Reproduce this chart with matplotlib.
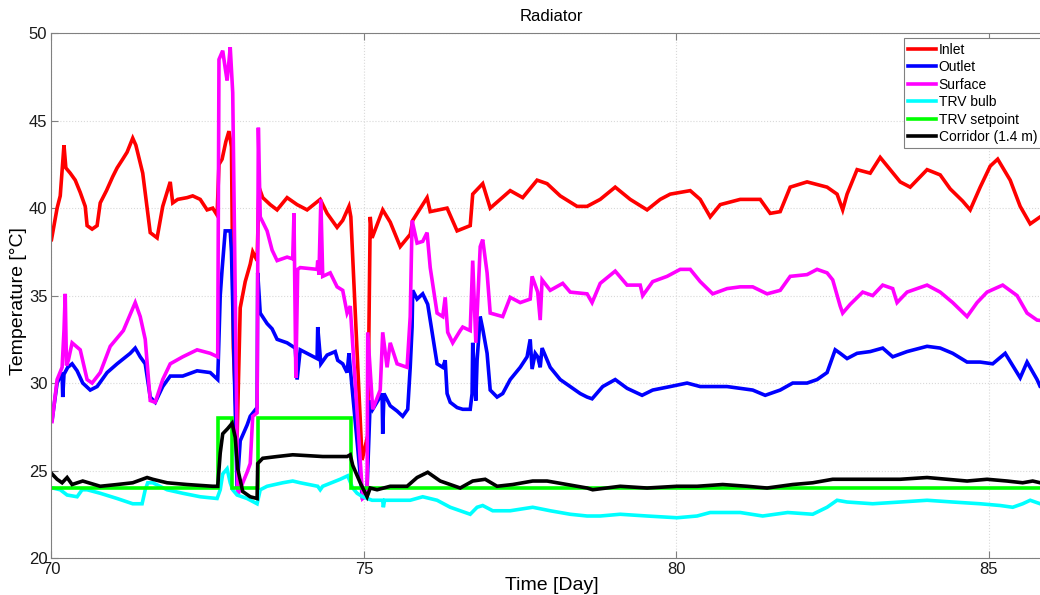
import numpy as np
import matplotlib
matplotlib.use('Agg')
import matplotlib.pyplot as plt

plt.rcParams['font.family'] = ['Liberation Sans', 'DejaVu Sans']

# Inlet temperature
inlet_t = [70.0, 70.09, 70.14, 70.2, 70.23, 70.30, 70.38, 70.46, 70.54, 70.57, 70.65, 70.73,
           70.78, 70.88, 70.98, 71.05, 71.14, 71.21, 71.30, 71.35, 71.46, 71.58, 71.69, 71.78,
           71.90, 71.94, 72.02, 72.17, 72.26, 72.38, 72.49, 72.58, 72.65, 72.68, 72.73, 72.79,
           72.84, 72.88, 72.91, 72.97, 73.02, 73.10, 73.18, 73.22, 73.29, 73.32, 73.38, 73.50,
           73.61, 73.77, 73.93, 74.09, 74.30, 74.41, 74.57, 74.66, 74.76, 74.79, 74.97, 75.06,
           75.10, 75.13, 75.30, 75.42, 75.58, 75.74, 75.78, 76.01, 76.06, 76.33, 76.49, 76.70,
           76.74, 76.90, 77.02, 77.34, 77.54, 77.77, 77.93, 78.14, 78.41, 78.57, 78.78, 79.02,
           79.26, 79.53, 79.74, 79.90, 80.22, 80.38, 80.54, 80.70, 81.02, 81.34, 81.50, 81.66,
           81.82, 82.09, 82.41, 82.57, 82.66, 82.73, 82.89, 83.10, 83.26, 83.42, 83.58, 83.74,
           84.01, 84.22, 84.38, 84.58, 84.70, 84.86, 85.02, 85.14, 85.34, 85.50, 85.66, 85.82, 86.0]
inlet = [38.2, 40.0, 40.7, 43.6, 42.3, 42.0, 41.6, 40.9, 40.1, 39.0, 38.8, 39.0,
         40.3, 41.0, 41.8, 42.3, 42.8, 43.2, 44.0, 43.6, 42.0, 38.6, 38.3, 40.1,
         41.5, 40.3, 40.5, 40.6, 40.7, 40.5, 39.9, 40.0, 39.6, 42.5, 42.8, 43.8,
         44.4, 43.5, 32.0, 26.9, 34.3, 35.8, 36.8, 37.5, 37.0, 41.2, 40.6, 40.2,
         39.9, 40.6, 40.2, 39.9, 40.5, 39.7, 38.9, 39.3, 40.1, 39.5, 25.6, 27.0,
         39.5, 38.3, 39.9, 39.2, 37.8, 38.5, 39.3, 40.6, 39.8, 40.0, 38.7, 39.0,
         40.8, 41.4, 40.0, 41.0, 40.6, 41.6, 41.4, 40.7, 40.1, 40.1, 40.5, 41.2,
         40.5, 39.9, 40.5, 40.8, 41.0, 40.5, 39.5, 40.2, 40.5, 40.5, 39.7, 39.8,
         41.2, 41.5, 41.2, 40.8, 39.9, 40.8, 42.2, 42.0, 42.9, 42.2, 41.5, 41.2,
         42.2, 41.9, 41.1, 40.4, 39.9, 41.2, 42.4, 42.8, 41.6, 40.1, 39.1, 39.5, 39.6]

# Outlet temperature
outlet_t = [70.01, 70.09, 70.17, 70.18, 70.20, 70.26, 70.33, 70.41, 70.50, 70.62, 70.73, 70.89,
            71.05, 71.26, 71.34, 71.42, 71.50, 71.58, 71.66, 71.78, 71.90, 72.10, 72.33, 72.54,
            72.66, 72.70, 72.73, 72.78, 72.86, 72.88, 72.97, 73.02, 73.13, 73.18, 73.29, 73.30,
            73.34, 73.45, 73.53, 73.61, 73.77, 73.90, 73.93, 73.98, 74.14, 74.25, 74.26, 74.31,
            74.41, 74.54, 74.58, 74.66, 74.73, 74.76, 74.79, 74.97, 75.05, 75.10, 75.14, 75.29,
            75.30, 75.32, 75.42, 75.53, 75.62, 75.70, 75.74, 75.77, 75.78, 75.85, 75.94, 76.02,
            76.09, 76.17, 76.26, 76.30, 76.33, 76.38, 76.49, 76.58, 76.70, 76.73, 76.74, 76.79,
            76.81, 76.86, 76.90, 76.97, 77.02, 77.13, 77.22, 77.34, 77.50, 77.61, 77.66, 77.69,
            77.74, 77.78, 77.82, 77.85, 77.98, 78.14, 78.30, 78.46, 78.57, 78.65, 78.82, 79.02,
            79.21, 79.45, 79.62, 79.90, 80.17, 80.38, 80.58, 80.81, 81.02, 81.22, 81.42, 81.66,
            81.86, 82.09, 82.25, 82.41, 82.46, 82.54, 82.62, 82.73, 82.89, 83.10, 83.30, 83.46,
            83.69, 84.01, 84.22, 84.42, 84.65, 84.86, 85.06, 85.26, 85.38, 85.50, 85.61, 85.77,
            85.82, 86.0]
outlet = [27.9, 30.0, 30.6, 29.2, 30.5, 30.9, 31.1, 30.7, 30.0, 29.6, 29.8, 30.6,
          31.1, 31.7, 32.0, 31.5, 31.1, 29.2, 28.9, 29.8, 30.4, 30.4, 30.7, 30.6,
          30.2, 35.0, 36.5, 38.7, 38.7, 37.5, 24.0, 26.7, 27.6, 28.1, 28.6, 36.3,
          34.0, 33.4, 33.1, 32.5, 32.3, 32.0, 30.2, 31.9, 31.6, 31.4, 33.2, 31.1,
          31.6, 31.8, 31.3, 31.1, 30.6, 31.7, 30.5, 23.6, 24.0, 29.0, 28.5, 29.4,
          27.1, 29.4, 28.7, 28.4, 28.1, 28.5, 30.9, 33.2, 35.3, 34.8, 35.1, 34.5,
          32.9, 31.1, 30.9, 31.3, 29.4, 28.9, 28.6, 28.5, 28.5, 29.4, 32.3, 29.0,
          31.3, 33.8, 33.1, 31.7, 29.6, 29.2, 29.4, 30.2, 30.9, 31.5, 32.5, 30.8,
          31.7, 31.5, 30.9, 32.0, 30.9, 30.2, 29.8, 29.4, 29.2, 29.1, 29.8, 30.2,
          29.7, 29.3, 29.6, 29.8, 30.0, 29.8, 29.8, 29.8, 29.7, 29.6, 29.3, 29.6,
          30.0, 30.0, 30.2, 30.6, 31.1, 31.9, 31.7, 31.4, 31.7, 31.8, 32.0, 31.5,
          31.8, 32.1, 32.0, 31.7, 31.2, 31.2, 31.1, 31.7, 31.0, 30.3, 31.2, 30.2,
          29.8, 29.6]

# Radiator surface temperature
surface_t = [70.01, 70.09, 70.17, 70.20, 70.22, 70.24, 70.27, 70.33, 70.46, 70.57, 70.65, 70.78,
             70.94, 71.15, 71.34, 71.42, 71.50, 71.58, 71.66, 71.78, 71.90, 72.10, 72.33, 72.54,
             72.66, 72.68, 72.74, 72.78, 72.81, 72.84, 72.86, 72.90, 72.98, 73.13, 73.18, 73.22,
             73.29, 73.31, 73.34, 73.45, 73.53, 73.61, 73.77, 73.86, 73.88, 73.91, 73.94, 73.98,
             74.25, 74.26, 74.28, 74.31, 74.34, 74.46, 74.57, 74.66, 74.73, 74.78, 74.98, 75.05,
             75.06, 75.14, 75.26, 75.30, 75.37, 75.42, 75.53, 75.69, 75.74, 75.77, 75.85, 75.94,
             76.01, 76.06, 76.17, 76.26, 76.30, 76.34, 76.42, 76.54, 76.58, 76.70, 76.74, 76.79,
             76.86, 76.90, 76.97, 77.02, 77.22, 77.34, 77.50, 77.66, 77.69, 77.78, 77.82, 77.85,
             77.98, 78.18, 78.30, 78.57, 78.65, 78.78, 79.02, 79.21, 79.42, 79.46, 79.62, 79.85,
             80.06, 80.22, 80.38, 80.58, 80.81, 81.02, 81.22, 81.45, 81.66, 81.82, 82.09, 82.25,
             82.41, 82.50, 82.62, 82.66, 82.78, 82.98, 83.14, 83.30, 83.46, 83.53, 83.69, 84.01,
             84.22, 84.42, 84.65, 84.81, 84.97, 85.22, 85.45, 85.61, 85.77, 86.0]
surface = [27.8, 30.2, 30.9, 33.0, 35.1, 31.0, 31.3, 32.3, 31.9, 30.2, 30.0, 30.6,
           32.1, 33.0, 34.6, 33.8, 32.5, 29.0, 28.9, 30.2, 31.1, 31.5, 31.9, 31.7,
           31.5, 48.5, 49.0, 48.0, 47.3, 48.4, 49.2, 46.6, 23.6, 24.9, 25.4, 28.1,
           28.3, 44.6, 39.5, 38.7, 37.6, 37.0, 37.2, 37.1, 39.7, 30.3, 36.5, 36.6,
           36.5, 37.0, 36.2, 40.5, 36.1, 36.3, 35.5, 35.3, 34.0, 34.4, 23.4, 23.6,
           32.9, 28.5, 29.6, 32.9, 30.9, 32.3, 31.1, 30.9, 33.8, 39.3, 38.0, 38.1,
           38.6, 36.6, 34.0, 33.8, 34.9, 32.9, 32.3, 33.0, 33.2, 33.0, 37.0, 32.3,
           37.8, 38.2, 36.3, 34.0, 33.8, 34.9, 34.6, 34.8, 36.1, 35.2, 33.6, 35.9,
           35.3, 35.7, 35.2, 35.1, 34.6, 35.7, 36.4, 35.6, 35.6, 35.0, 35.8, 36.1,
           36.5, 36.5, 35.8, 35.1, 35.4, 35.5, 35.5, 35.1, 35.3, 36.1, 36.2, 36.5,
           36.3, 35.9, 34.4, 34.0, 34.5, 35.2, 35.0, 35.6, 35.4, 34.6, 35.2, 35.6,
           35.2, 34.6, 33.8, 34.6, 35.2, 35.6, 35.0, 34.0, 33.6, 33.5]

# TRV bulb temperature
bulb_t = [70.02, 70.14, 70.25, 70.41, 70.49, 70.57, 70.78, 71.05, 71.30, 71.45, 71.50, 71.54,
          71.62, 71.85, 72.10, 72.38, 72.65, 72.70, 72.74, 72.81, 72.86, 72.90, 72.97, 73.13,
          73.29, 73.34, 73.45, 73.70, 73.86, 73.98, 74.26, 74.30, 74.34, 74.62, 74.74, 74.82,
          74.89, 74.98, 75.13, 75.30, 75.31, 75.33, 75.53, 75.74, 75.94, 76.17, 76.38, 76.70,
          76.81, 76.90, 77.06, 77.34, 77.70, 77.98, 78.30, 78.57, 78.78, 79.10, 79.53, 80.01,
          80.33, 80.54, 80.70, 81.02, 81.38, 81.78, 82.18, 82.41, 82.57, 82.73, 83.14, 83.58,
          84.01, 84.42, 84.86, 85.18, 85.38, 85.54, 85.66, 85.82, 86.0]
bulb = [24.0, 23.9, 23.6, 23.5, 23.9, 23.9, 23.7, 23.4, 23.1, 23.1, 23.9, 24.3,
        24.3, 23.9, 23.7, 23.5, 23.4, 23.9, 24.8, 25.1, 24.3, 23.9, 23.6, 23.4,
        23.1, 23.9, 24.1, 24.3, 24.4, 24.3, 24.1, 23.9, 24.1, 24.5, 24.7, 24.0,
        23.7, 23.5, 23.3, 23.3, 22.9, 23.3, 23.3, 23.3, 23.5, 23.3, 22.9, 22.5,
        22.9, 23.0, 22.7, 22.7, 22.9, 22.7, 22.5, 22.4, 22.4, 22.5, 22.4, 22.3,
        22.4, 22.6, 22.6, 22.6, 22.4, 22.6, 22.5, 22.9, 23.3, 23.2, 23.1, 23.2,
        23.3, 23.2, 23.1, 23.0, 22.9, 23.1, 23.3, 23.1, 23.1]

# TRV setpoint (step changes)
setpoint_t = [70.0, 72.66, 72.66, 72.89, 72.89, 73.30, 73.30, 74.79, 74.79, 86.0]
setpoint = [24, 24, 28, 28, 24, 24, 28, 28, 24, 24]

# Corridor air temperature at 1.4 m
corridor_t = [70.01, 70.09, 70.17, 70.25, 70.33, 70.50, 70.78, 71.05, 71.30, 71.53, 71.62, 71.85,
              72.17, 72.58, 72.66, 72.70, 72.74, 72.82, 72.89, 72.94, 72.98, 73.06, 73.18, 73.29,
              73.30, 73.38, 73.61, 73.86, 74.34, 74.73, 74.78, 74.82, 74.94, 75.05, 75.10, 75.21,
              75.42, 75.69, 75.85, 76.02, 76.22, 76.54, 76.74, 76.94, 77.13, 77.38, 77.70, 77.93,
              78.25, 78.57, 78.66, 79.10, 79.53, 80.01, 80.33, 80.74, 81.13, 81.45, 81.86, 82.18,
              82.50, 82.89, 83.26, 83.58, 84.01, 84.33, 84.65, 84.97, 85.29, 85.54, 85.70, 85.82, 86.0]
corridor = [24.8, 24.5, 24.3, 24.6, 24.2, 24.4, 24.1, 24.2, 24.3, 24.6, 24.5, 24.3,
            24.2, 24.1, 24.1, 26.0, 27.1, 27.4, 27.7, 26.9, 25.1, 23.8, 23.5, 23.4,
            25.4, 25.7, 25.8, 25.9, 25.8, 25.8, 25.9, 25.3, 24.3, 23.5, 24.0, 23.9,
            24.1, 24.1, 24.6, 24.9, 24.4, 24.0, 24.4, 24.5, 24.1, 24.2, 24.4, 24.4,
            24.2, 24.0, 23.9, 24.1, 24.0, 24.1, 24.1, 24.2, 24.1, 24.0, 24.2, 24.3,
            24.5, 24.5, 24.5, 24.5, 24.6, 24.5, 24.4, 24.5, 24.4, 24.3, 24.4, 24.3, 24.3]

series = [
    (inlet_t, inlet, (1, 0, 0), 'Inlet'),
    (outlet_t, outlet, (0, 0, 1), 'Outlet'),
    (surface_t, surface, (1, 0, 1), 'Surface'),
    (bulb_t, bulb, (0, 1, 1), 'TRV bulb'),
    (setpoint_t, setpoint, (0, 1, 0), 'TRV setpoint'),
    (corridor_t, corridor, (0, 0, 0), 'Corridor (1.4 m)'),
]

fig = plt.figure(figsize=(10.4, 5.95), dpi=100)
ax = fig.add_axes([0.0495, 0.0622, 0.9615, 0.882])

for t, v, c, name in series:
    ax.plot(t, v, color=c, lw=2.6, label=name, solid_joinstyle='miter')

ax.set_xlim(70, 86)
ax.set_ylim(20, 50)
ax.set_xticks([70, 75, 80, 85])
ax.set_yticks([20, 25, 30, 35, 40, 45, 50])
ax.grid(True, linestyle=':', color='#d9d9d9', lw=0.8)
ax.tick_params(direction='in', length=5, colors='#808080', labelcolor='#1a1a1a',
               labelsize=12, top=True, right=True, pad=3)
for sp in ax.spines.values():
    sp.set_color('#808080')

ax.set_title('Radiator', fontsize=12, pad=9)
ax.set_xlabel('Time [Day]', fontsize=14, labelpad=0)
ax.set_ylabel('Temperature [°C]', fontsize=14)
ax.yaxis.set_label_coords(-0.024, 0.49)

leg = ax.legend(loc='upper left', bbox_to_anchor=(0.8525, 0.99), fontsize=10,
                handlelength=2.0, handletextpad=0.2, labelspacing=0.25,
                borderpad=0.3, fancybox=False, framealpha=1, borderaxespad=0)
leg.get_frame().set_edgecolor('#808080')
leg.get_frame().set_linewidth(0.8)

fig.savefig('out.png', dpi=100)
